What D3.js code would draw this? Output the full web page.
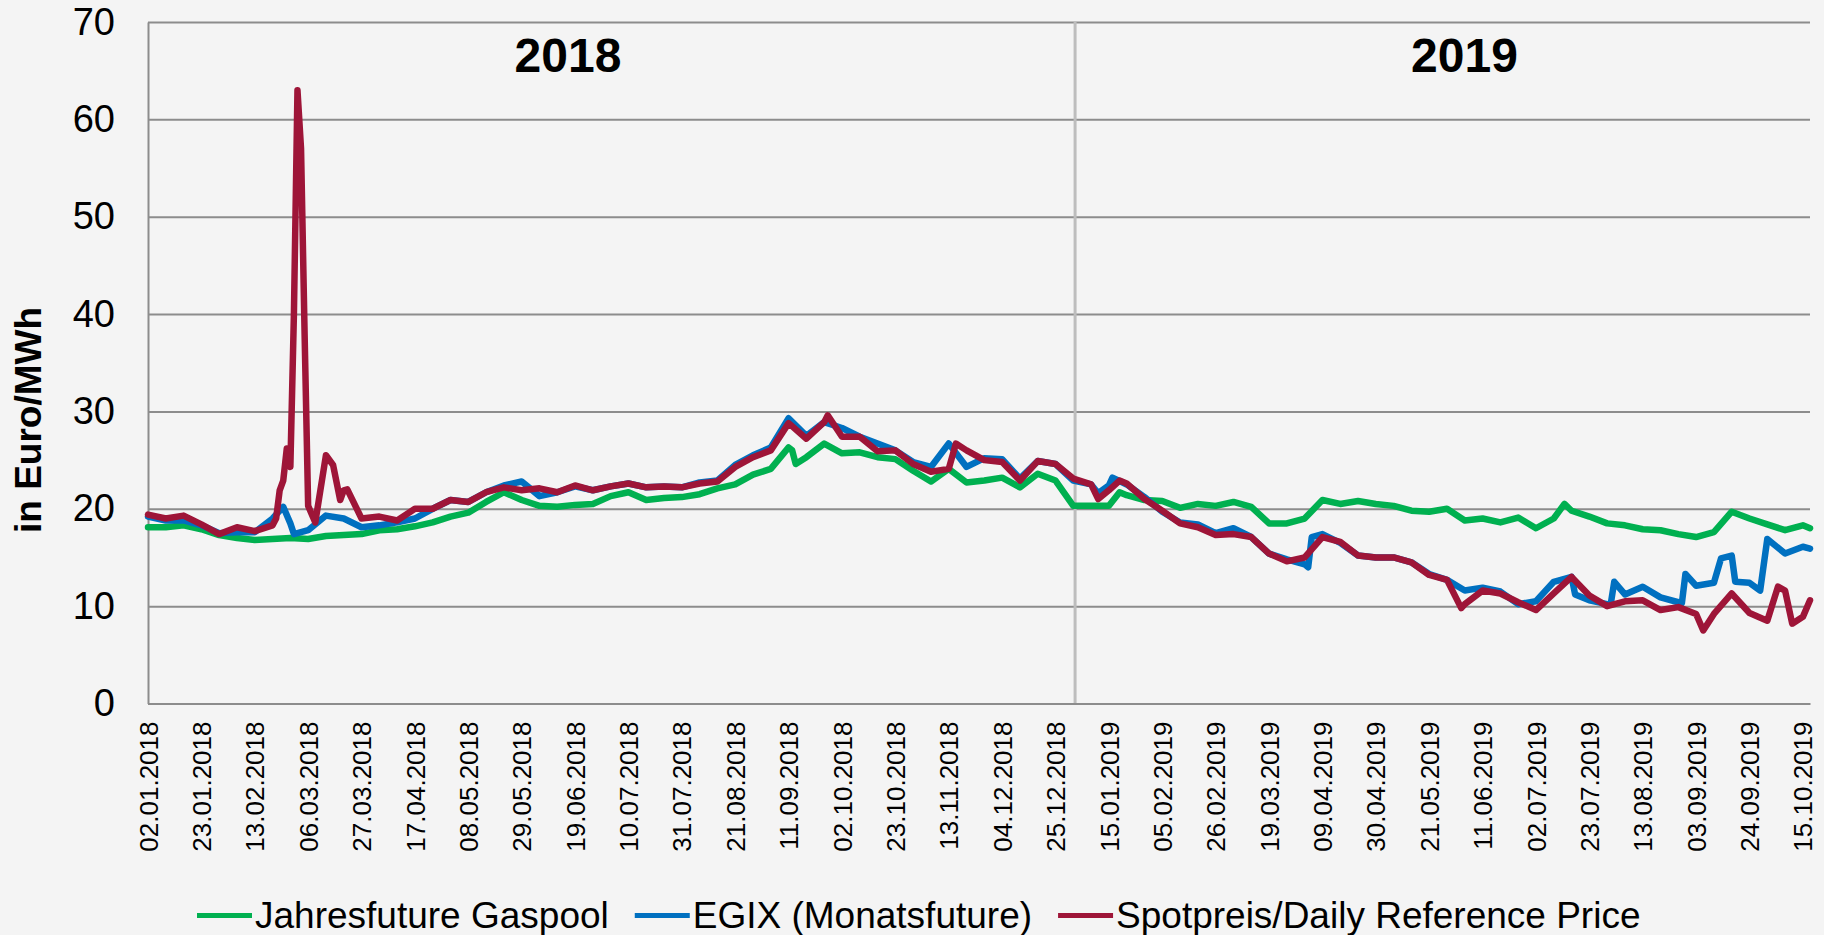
<!DOCTYPE html>
<html>
<head>
<meta charset="UTF-8">
<title>Gaspool Preise 2018 / 2019</title>
<script src="https://d3js.org/d3.v7.min.js"></script>
<style>
  body { margin: 0; background: #f4f4f4; }
  text { font-family: "Liberation Sans", Arial, sans-serif; fill: #000; }
</style>
</head>
<body>
<div id="chart"></div>
<script>
// labels on the date axis (every 15th trading day)
var tickLabels = ["02.01.2018", "23.01.2018", "13.02.2018", "06.03.2018", "27.03.2018", "17.04.2018",
  "08.05.2018", "29.05.2018", "19.06.2018", "10.07.2018", "31.07.2018", "21.08.2018", "11.09.2018",
  "02.10.2018", "23.10.2018", "13.11.2018", "04.12.2018", "25.12.2018", "15.01.2019", "05.02.2019",
  "26.02.2019", "19.03.2019", "09.04.2019", "30.04.2019", "21.05.2019", "11.06.2019", "02.07.2019",
  "23.07.2019", "13.08.2019", "03.09.2019", "24.09.2019", "15.10.2019"];
var yTicks = [0, 10, 20, 30, 40, 50, 60, 70];

// weekly values, every 5th trading day from 02.01.2018 (last value = 17.10.2019)
var gaspool = [
  18.1, 18.1, 18.3, 17.9, 17.3, 17.0, 16.8, 16.9, 17.0, 16.9,
  17.2, 17.3, 17.4, 17.8, 17.9, 18.2, 18.6, 19.2, 19.6, 20.7,
  21.7, 20.9, 20.3, 20.2, 20.4, 20.5, 21.3, 21.7, 20.9, 21.1,
  21.2, 21.5, 22.1, 22.5, 23.5, 24.1, 26.3, 25.3, 26.7, 25.7,
  25.8, 25.3, 25.1, 23.9, 22.8, 24.1, 22.7, 22.9, 23.2, 22.2,
  23.6, 22.9, 20.3, 20.3, 20.3, 21.4, 20.9, 20.8, 20.1, 20.5,
  20.3, 20.7, 20.2, 18.5, 18.5, 19.0, 20.9, 20.5, 20.8, 20.5,
  20.3, 19.8, 19.7, 20.0, 18.8, 19.0, 18.6, 19.1, 18.0, 19.0,
  19.8, 19.2, 18.5, 18.3, 17.9, 17.8, 17.4, 17.1, 17.6, 19.7,
  19.0, 18.4, 17.8, 18.3, 18.0];
var egix = [
  19.2, 18.8, 18.8, 18.3, 17.5, 17.6, 17.6, 19.0, 18.5, 17.8,
  19.3, 19.0, 18.1, 18.3, 18.6, 19.0, 20.0, 20.9, 20.7, 21.7,
  22.4, 22.8, 21.3, 21.7, 22.3, 21.9, 22.3, 22.6, 22.2, 22.3,
  22.2, 22.7, 22.9, 24.5, 25.5, 26.3, 29.3, 27.5, 28.9, 28.3,
  27.4, 26.7, 26.0, 24.8, 24.3, 26.7, 24.3, 25.2, 25.1, 23.1,
  24.9, 24.6, 22.9, 22.5, 22.4, 22.5, 21.2, 19.7, 18.6, 18.4,
  17.5, 18.0, 17.1, 15.4, 14.8, 14.3, 17.4, 16.5, 15.2, 15.0,
  15.0, 14.5, 13.3, 12.7, 11.6, 11.9, 11.5, 10.2, 10.5, 12.5,
  13.0, 10.6, 10.2, 11.2, 12.0, 10.9, 10.4, 12.1, 12.4, 15.2,
  12.4, 16.9, 15.4, 16.1, 15.9];
var spot = [
  19.4, 19.0, 19.3, 18.4, 17.4, 18.1, 17.7, 18.3, 24.3, 20.3,
  25.5, 21.9, 19.0, 19.2, 18.8, 20.0, 20.0, 20.9, 20.7, 21.7,
  22.2, 21.9, 22.1, 21.7, 22.4, 21.9, 22.3, 22.6, 22.2, 22.3,
  22.2, 22.6, 22.8, 24.3, 25.3, 26.0, 28.8, 27.2, 28.9, 27.4,
  27.4, 25.9, 26.0, 24.6, 23.8, 24.1, 26.0, 25.0, 24.8, 22.9,
  24.9, 24.6, 23.1, 22.5, 21.9, 22.6, 21.0, 19.8, 18.5, 18.1,
  17.3, 17.4, 17.1, 15.4, 14.6, 15.0, 17.1, 16.6, 15.2, 15.0,
  15.0, 14.5, 13.2, 12.7, 10.2, 11.6, 11.3, 10.4, 9.6, 11.3,
  13.0, 11.1, 10.0, 10.5, 10.6, 9.6, 9.9, 9.2, 9.2, 11.3,
  9.3, 8.5, 11.6, 8.9, 10.6];

// single days read in between the weekly values
var gaspoolDays = [["12.09.2018", 26.0], ["13.09.2018", 24.6], ["18.01.2019", 21.7], ["12.07.2019", 20.5]];
var egixDays = [["23.02.2018", 20.2], ["28.02.2018", 17.4], ["16.01.2019", 23.2], ["10.01.2019", 21.6],
  ["03.04.2019", 14.0], ["04.04.2019", 17.1],
  ["17.07.2019", 11.2], ["31.07.2019", 10.2], ["01.08.2019", 12.5], ["28.08.2019", 10.3],
  ["29.08.2019", 13.3], ["12.09.2019", 14.9], ["18.09.2019", 12.5], ["27.09.2019", 11.6]];
var spotDays = [["21.02.2018", 19.0], ["22.02.2018", 21.9], ["23.02.2018", 22.9], ["26.02.2018", 26.2],
  ["28.02.2018", 40.0], ["01.03.2018", 63.0], ["02.03.2018", 57.0], ["05.03.2018", 38.0],
  ["08.03.2018", 18.6], ["15.03.2018", 24.5], ["19.03.2018", 20.9], ["21.03.2018", 22.0],
  ["26.09.2018", 29.6], ["15.11.2018", 26.7], ["10.01.2019", 21.0], ["18.01.2019", 22.9],
  ["03.06.2019", 9.8], ["05.09.2019", 7.5], ["04.10.2019", 12.0], ["10.10.2019", 8.2]];

var seriesNames = ["Jahresfuture Gaspool", "EGIX (Monatsfuture)", "Spotpreis/Daily Reference Price"];
var seriesColors = ["#00b050", "#0070c0", "#9e1538"];

// all trading days (Mon-Fri) shown on the category axis
var fmt = d3.utcFormat("%d.%m.%Y");
var days = d3.utcDay.range(new Date(Date.UTC(2018, 0, 2)), new Date(Date.UTC(2019, 9, 18)))
  .filter(function(d) { var w = d.getUTCDay(); return w > 0 && w < 6; })
  .map(fmt);

function buildSeries(weekly, extra) {
  var pts = weekly.map(function(v, k) {
    return { day: days[Math.min(k * 5, days.length - 1)], value: v };
  });
  extra.forEach(function(e) {
    pts = pts.filter(function(p) { return p.day !== e[0]; });
    pts.push({ day: e[0], value: e[1] });
  });
  pts.sort(function(a, b) { return days.indexOf(a.day) - days.indexOf(b.day); });
  return pts;
}

var series = [buildSeries(gaspool, gaspoolDays), buildSeries(egix, egixDays), buildSeries(spot, spotDays)];

var W = 1824, H = 935;
var margin = {top: 22, right: 14, bottom: 231.5, left: 148};
var width = W - margin.left - margin.right,
    height = H - margin.top - margin.bottom;

var svg = d3.select("#chart").append("svg")
  .attr("width", W)
  .attr("height", H);

var g = svg.append("g")
  .attr("transform", "translate(" + margin.left + "," + margin.top + ")");

var x = d3.scalePoint().domain(days).range([0, width]);
var y = d3.scaleLinear().domain([0, 70]).range([height, 0]);

// y axis + gridlines
var yAxis = g.append("g")
  .call(d3.axisLeft(y).tickValues(yTicks).tickSize(-width).tickSizeOuter(0).tickPadding(33));
yAxis.select(".domain").attr("stroke", "#8c8c8c").attr("stroke-width", 2);
yAxis.selectAll(".tick line").attr("stroke", "#8c8c8c").attr("stroke-width", 2);
yAxis.selectAll(".tick text").style("font-size", "38px").attr("font-family", null);

// divider between the years
var div = (x("01.01.2019") + x("02.01.2019")) / 2;
g.append("line")
  .attr("x1", div).attr("x2", div)
  .attr("y1", 0).attr("y2", height)
  .attr("stroke", "#bdbdbd")
  .attr("stroke-width", 3);

// x axis
var xAxis = g.append("g")
  .attr("transform", "translate(0," + height + ")")
  .call(d3.axisBottom(x).tickValues(tickLabels).tickSize(0).tickSizeOuter(0));
xAxis.select(".domain").attr("stroke", "#8c8c8c").attr("stroke-width", 2);
xAxis.selectAll(".tick text")
  .attr("font-family", null)
  .style("font-size", "26px")
  .attr("transform", "rotate(-90)")
  .attr("x", -18)
  .attr("y", 0)
  .attr("dy", "0.35em")
  .style("text-anchor", "end");

// lines
var line = d3.line()
  .x(function(d) { return x(d.day); })
  .y(function(d) { return y(d.value); });

g.selectAll(".series")
  .data(series)
  .enter().append("path")
  .attr("class", "series")
  .attr("d", line)
  .attr("fill", "none")
  .attr("stroke", function(d, i) { return seriesColors[i]; })
  .attr("stroke-width", 6.5)
  .attr("stroke-linejoin", "round")
  .attr("stroke-linecap", "round");

// year labels
g.append("text").attr("x", 420).attr("y", 50).attr("text-anchor", "middle")
  .style("font-size", "48px").style("font-weight", "bold").text("2018");
g.append("text").attr("x", 1316.5).attr("y", 50).attr("text-anchor", "middle")
  .style("font-size", "48px").style("font-weight", "bold").text("2019");

// y title
svg.append("text")
  .attr("transform", "translate(41,420) rotate(-90)")
  .attr("text-anchor", "middle")
  .style("font-size", "37px")
  .style("font-weight", "bold")
  .text("in Euro/MWh");

// legend
var lx = 197;
seriesNames.forEach(function(name, i) {
  svg.append("line")
    .attr("x1", lx).attr("x2", lx + 55)
    .attr("y1", 915.5).attr("y2", 915.5)
    .attr("stroke", seriesColors[i])
    .attr("stroke-width", 5);
  var t = svg.append("text")
    .attr("x", lx + 58)
    .attr("y", 928)
    .style("font-size", "37px")
    .text(name);
  lx += 58 + t.node().getComputedTextLength() + 26;
});
</script>
</body>
</html>
